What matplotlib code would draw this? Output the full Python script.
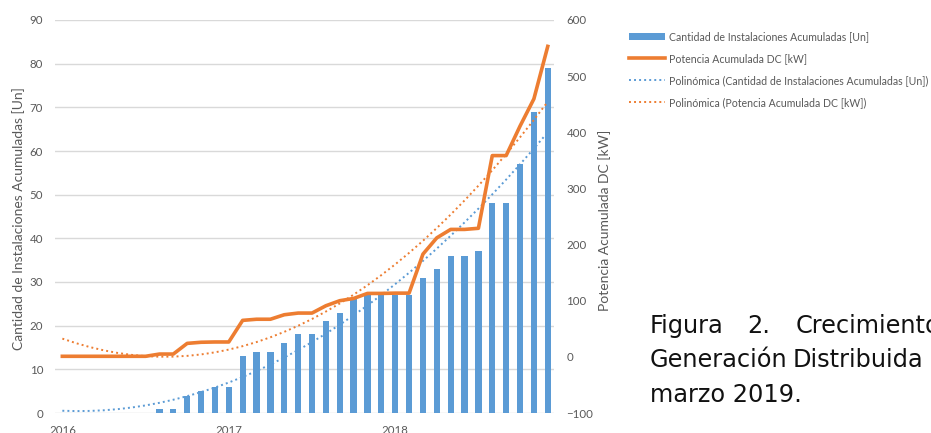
import numpy as np
import matplotlib.pyplot as plt
from matplotlib.lines import Line2D
from matplotlib.patches import Patch

# === Data: monthly values, Jan 2016 .. Dec 2018 ===
instalaciones = [0, 0, 0, 0, 0, 0, 0, 1, 1, 4, 5, 6,
                 6, 13, 14, 14, 16, 18, 18, 21, 23, 26, 27, 27,
                 27, 27, 31, 33, 36, 36, 37, 48, 48, 57, 69, 79]
potencia_kw = [1, 1, 1, 1, 1, 1, 1, 5, 5, 24, 26, 26.5,
               26.5, 65, 67, 67, 75, 78, 78, 91, 100, 104, 113, 113,
               113.5, 113.5, 183, 212, 227, 227, 229, 358.5, 358.5, 411, 459.5, 553]
year_labels = ["2016", "2017", "2018"]

BLUE = "#5B9BD5"
ORANGE = "#ED7D31"
GREY = "#595959"

x = np.arange(len(instalaciones))

# polynomial (order 2) trendlines
fit_inst = np.polyval(np.polyfit(x, instalaciones, 2), x)
fit_pot = np.polyval(np.polyfit(x, potencia_kw, 2), x)

plt.rcParams['font.family'] = ['Lato', 'DejaVu Sans']

fig = plt.figure(figsize=(9.31, 4.33), dpi=100)
ax = fig.add_axes([55 / 931, (433 - 413) / 433, 499 / 931, 393 / 433])
ax2 = ax.twinx()

dots = (0, (1, 1.6))
ax.bar(x, instalaciones, width=0.45, color=BLUE, zorder=2)
ax.plot(x, fit_inst, color=BLUE, lw=1.4, linestyle=dots, zorder=3)
ax2.plot(x, potencia_kw, color=ORANGE, lw=2.6, solid_joinstyle='round', zorder=4)
ax2.plot(x, fit_pot, color=ORANGE, lw=1.4, linestyle=dots, zorder=3)

ax.set_xlim(-0.53, 35.45)
ax.set_ylim(0, 90)
ax.set_yticks(np.arange(0, 91, 10))
ax2.set_ylim(-100, 600)
ax2.set_yticks(np.arange(-100, 601, 100))
ax.set_xticks([0, 12, 24])
ax.set_xticklabels(year_labels)

ax.grid(axis='y', color='#D9D9D9', lw=1.0, zorder=0)
ax.set_axisbelow(True)
for a in (ax, ax2):
    for s in a.spines.values():
        s.set_visible(False)
    a.tick_params(length=0, labelsize=8.3, labelcolor=GREY)
ax.tick_params(axis='y', pad=8.5)
ax.tick_params(axis='x', pad=8.5)
ax2.tick_params(axis='y', pad=9)
ax2.set_zorder(ax.get_zorder() + 1)
ax2.patch.set_visible(False)

ax.set_ylabel("Cantidad de Instalaciones Acumuladas [Un]", fontsize=10, color=GREY)
ax.yaxis.set_label_coords(-0.060, 0.494)
ax2.set_ylabel("Potencia Acumulada DC [kW]", fontsize=10, color=GREY)
ax2.yaxis.set_label_coords(1.088, 0.491)

handles = [
    Patch(facecolor=BLUE, edgecolor='none'),
    Line2D([], [], color=ORANGE, lw=2.6),
    Line2D([], [], color=BLUE, lw=1.4, linestyle=dots),
    Line2D([], [], color=ORANGE, lw=1.4, linestyle=dots),
]
labels = [
    "Cantidad de Instalaciones Acumuladas [Un]",
    "Potencia Acumulada DC [kW]",
    "Polinómica (Cantidad de Instalaciones Acumuladas [Un])",
    "Polinómica (Potencia Acumulada DC [kW])",
]
leg = fig.legend(handles, labels, loc='upper left', bbox_to_anchor=(629 / 931, 1 - 31 / 433),
                 frameon=False, fontsize=7.6, handlelength=3.4, handletextpad=0.38,
                 labelspacing=1.04, borderaxespad=0, borderpad=0)
for t in leg.get_texts():
    t.set_color(GREY)

# caption beside the chart (justified lines, runs off the right edge)
cap = dict(fontsize=17.3, fontfamily='DejaVu Sans', color='#111111', va='baseline', ha='left')
fig.text(650 / 931, 1 - 333 / 433, "Figura", **cap)
fig.text(747 / 931, 1 - 333 / 433, "2.", **cap)
fig.text(796 / 931, 1 - 333 / 433, "Crecimiento", **cap)
fig.text(650 / 931, 1 - 367 / 433, "Generación", **cap)
fig.text(793 / 931, 1 - 367 / 433, "Distribuida", **cap)
fig.text(650 / 931, 1 - 401.5 / 433, "marzo 2019.", **cap)

fig.savefig("out.png", dpi=100)
